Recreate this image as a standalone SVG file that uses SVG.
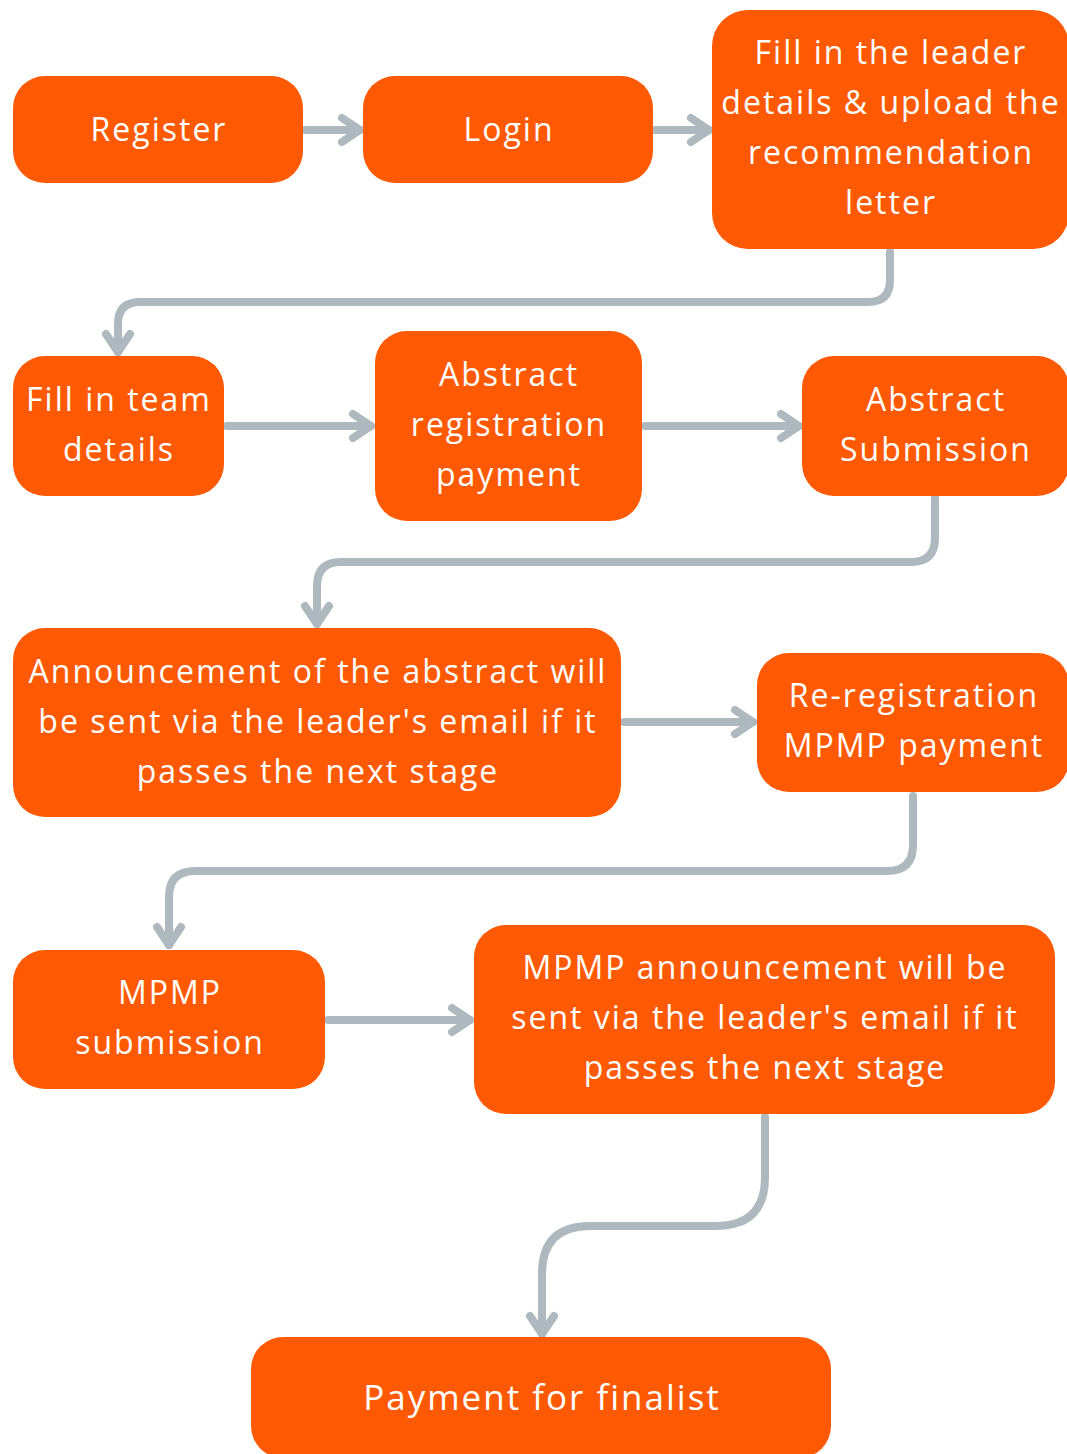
<svg xmlns="http://www.w3.org/2000/svg" width="1067" height="1454" viewBox="0 0 1067 1454">
<defs>
<style>
.box{fill:#FF5A03;}
.t{fill:#ffffff;font-family:"Open Sans","Noto Sans",sans-serif;font-size:32px;letter-spacing:2px;text-anchor:middle;}
.big{font-size:35px;}
.c{fill:none;stroke:#ADB8BF;stroke-width:8;stroke-linecap:round;stroke-linejoin:round;}
</style>
<marker id="ah" markerUnits="userSpaceOnUse" orient="auto" markerWidth="40" markerHeight="40" refX="0" refY="0" viewBox="-25 -20 30 40" overflow="visible">
<path d="M-18,-12 L0,0 L-18,12" fill="none" stroke="#ADB8BF" stroke-width="8" stroke-linecap="round" stroke-linejoin="round"/>
</marker>
</defs>
<rect width="1067" height="1454" fill="#ffffff"/>
<g id="connectors">
<path class="c" marker-end="url(#ah)" d="M305,130 H360"/>
<path class="c" marker-end="url(#ah)" d="M655,130 H709"/>
<path class="c" marker-end="url(#ah)" d="M890,252 V280 Q890,302 868,302 H140 Q118,302 118,324 V352"/>
<path class="c" marker-end="url(#ah)" d="M227,426 H371"/>
<path class="c" marker-end="url(#ah)" d="M645,426 H799"/>
<path class="c" marker-end="url(#ah)" d="M935,498 V538 Q935,562 911,562 H341 Q317,562 317,586 V624"/>
<path class="c" marker-end="url(#ah)" d="M624,722 H753"/>
<path class="c" marker-end="url(#ah)" d="M913,796 V845 Q913,871 887,871 H195 Q169,871 169,897 V945"/>
<path class="c" marker-end="url(#ah)" d="M328,1020 H470"/>
<path class="c" marker-end="url(#ah)" d="M765,1117 V1177 Q765,1226 716,1226 H590 Q542,1226 542,1274 V1334"/>
</g>
<g id="n1"><rect class="box" x="13" y="76" width="290" height="107" rx="32"/><text class="t" x="159" y="141">Register</text></g>
<g id="n2"><rect class="box" x="363" y="76" width="290" height="107" rx="32"/><text class="t" x="509" y="141">Login</text></g>
<g id="n3"><rect class="box" x="712" y="10" width="357" height="239" rx="36"/>
<text class="t" x="891" y="64">Fill in the leader</text>
<text class="t" x="891" y="114">details &amp; upload the</text>
<text class="t" x="891" y="164">recommendation</text>
<text class="t" x="891" y="214">letter</text></g>
<g id="n4"><rect class="box" x="13" y="356" width="211" height="140" rx="32"/>
<text class="t" x="119" y="411">Fill in team</text>
<text class="t" x="119" y="461">details</text></g>
<g id="n5"><rect class="box" x="375" y="331" width="267" height="190" rx="32"/>
<text class="t" x="509" y="386">Abstract</text>
<text class="t" x="509" y="436">registration</text>
<text class="t" x="509" y="486">payment</text></g>
<g id="n6"><rect class="box" x="802" y="356" width="267" height="140" rx="32"/>
<text class="t" x="936" y="411">Abstract</text>
<text class="t" x="936" y="461">Submission</text></g>
<g id="n7"><rect class="box" x="13" y="628" width="608" height="189" rx="32"/>
<text class="t" x="318" y="683">Announcement of the abstract will</text>
<text class="t" x="318" y="733">be sent via the leader's email if it</text>
<text class="t" x="318" y="783">passes the next stage</text></g>
<g id="n8"><rect class="box" x="757" y="653" width="312" height="139" rx="32"/>
<text class="t" x="914" y="707">Re-registration</text>
<text class="t" x="914" y="757">MPMP payment</text></g>
<g id="n9"><rect class="box" x="13" y="950" width="312" height="139" rx="32"/>
<text class="t" x="170" y="1004">MPMP</text>
<text class="t" x="170" y="1054">submission</text></g>
<g id="n10"><rect class="box" x="474" y="925" width="581" height="189" rx="32"/>
<text class="t" x="765" y="979">MPMP announcement will be</text>
<text class="t" x="765" y="1029">sent via the leader's email if it</text>
<text class="t" x="765" y="1079">passes the next stage</text></g>
<g id="n11"><rect class="box" x="251" y="1337" width="580" height="121" rx="32"/>
<text class="t big" x="542" y="1410">Payment for finalist</text></g>
</svg>
